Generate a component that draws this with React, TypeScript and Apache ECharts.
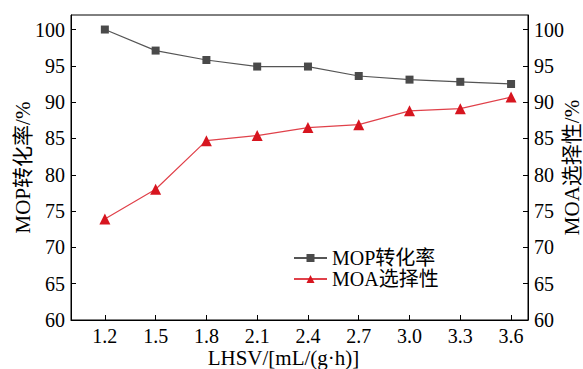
import React, { useEffect, useRef } from "react";
import * as echarts from "echarts";

// LHSV values (mL/(g·h))
const lhsv = [1.2, 1.5, 1.8, 2.1, 2.4, 2.7, 3.0, 3.3, 3.6];
// MOP conversion, %
const mopConversion = [100, 97.1, 95.8, 94.9, 94.9, 93.6, 93.1, 92.8, 92.5];
// MOA selectivity, %
const moaSelectivity = [73.9, 78.0, 84.7, 85.4, 86.5, 86.9, 88.8, 89.1, 90.7];
// tick positions
const xTicks = [1.2, 1.5, 1.8, 2.1, 2.4, 2.7, 3.0, 3.3, 3.6];
const yTicks = [60, 65, 70, 75, 80, 85, 90, 95, 100];

const FONT = "'Liberation Serif', 'Noto Sans CJK SC', serif";
const TICK_FONT = 20;
const NAME_FONT = 21;

export default function App() {
  const ref = useRef<HTMLDivElement>(null);

  useEffect(() => {
    if (!ref.current) return;
    const chart = echarts.init(ref.current, undefined, { renderer: "svg" });

    const yAxisCommon = (position: "left" | "right", name: string) => ({
      type: "value" as const,
      position,
      min: 60,
      max: 102,
      name,
      nameLocation: "middle" as const,
      nameRotate: 90,
      nameGap: position === "left" ? 38 : 33,
      nameMoveOverlap: false,
      nameTextStyle: { color: "#000", fontSize: NAME_FONT, fontFamily: FONT },
      splitLine: { show: false },
      axisLine: { show: true, lineStyle: { color: "#000", width: 1 } },
      axisTick: {
        show: true,
        inside: true,
        length: 5,
        customValues: yTicks,
        lineStyle: { color: "#000" },
      },
      axisLabel: {
        customValues: yTicks,
        color: "#000",
        fontSize: TICK_FONT,
        fontFamily: FONT,
        margin: 6,
      },
    });

    chart.setOption({
      animation: false,
      backgroundColor: "#fff",
      grid: {
        left: 71,
        right: 55,
        top: 15,
        bottom: 49,
        show: true,
        borderColor: "#000",
        borderWidth: 1,
        containLabel: false,
        outerBoundsMode: "none",
      },
      legend: {
        orient: "vertical",
        left: 288,
        top: 243,
        itemWidth: 33,
        itemHeight: 10,
        itemGap: 1,
        textStyle: { color: "#000", fontSize: 20, lineHeight: 20, fontFamily: FONT },
        data: ["MOP转化率", "MOA选择性"],
      },
      xAxis: {
        type: "value",
        min: 1.0,
        max: 3.7,
        name: "LHSV/[mL/(g·h)]",
        nameLocation: "middle",
        nameGap: 27,
        nameMoveOverlap: false,
        nameTextStyle: {
          color: "#000",
          fontSize: 21,
          lineHeight: 21,
          fontFamily: FONT,
          padding: [0, 32, 0, 0],
        },
        splitLine: { show: false },
        axisLine: { lineStyle: { color: "#000", width: 1 } },
        axisTick: {
          show: true,
          inside: true,
          length: 5,
          customValues: xTicks,
          lineStyle: { color: "#000" },
        },
        axisLabel: {
          customValues: xTicks,
          formatter: (v: number) => v.toFixed(1),
          color: "#000",
          fontSize: TICK_FONT,
          lineHeight: 20,
          fontFamily: FONT,
          margin: 6,
        },
      },
      yAxis: [
        yAxisCommon("left", "MOP转化率/%"),
        yAxisCommon("right", "MOA选择性/%"),
      ],
      series: [
        {
          name: "MOP转化率",
          type: "line",
          yAxisIndex: 0,
          data: lhsv.map((x, i) => [x, mopConversion[i]]),
          symbol: "rect",
          symbolSize: 8,
          itemStyle: { color: "#4a4a4a" },
          lineStyle: { color: "#555", width: 1.2 },
        },
        {
          name: "MOA选择性",
          type: "line",
          yAxisIndex: 1,
          data: lhsv.map((x, i) => [x, moaSelectivity[i]]),
          symbol: "triangle",
          symbolSize: 11,
          itemStyle: { color: "#d7151f" },
          lineStyle: { color: "#e0414a", width: 1.2 },
        },
      ],
    });

    return () => chart.dispose();
  }, []);

  return <div ref={ref} style={{ width: 583, height: 369, position: "absolute", left: 0, top: 0 }} />;
}
